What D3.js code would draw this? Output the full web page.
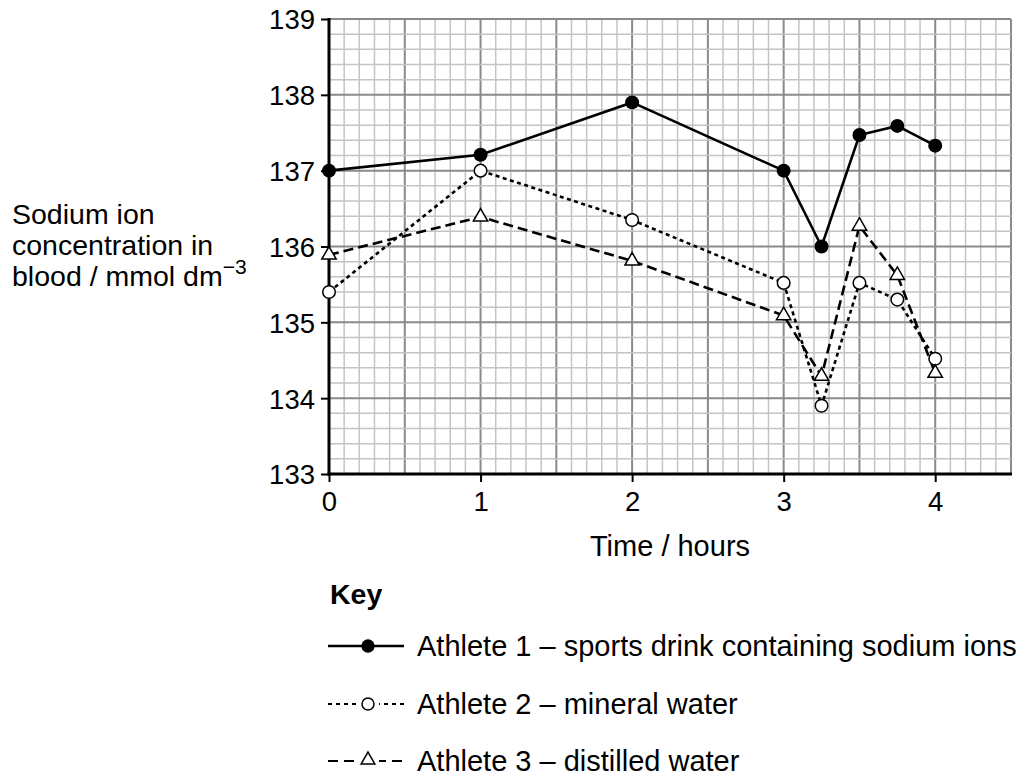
<!DOCTYPE html>
<html>
<head>
<meta charset="utf-8">
<script src="https://cdn.jsdelivr.net/npm/d3@7"></script>
<style>
  html, body { margin: 0; padding: 0; background: #fff; }
  svg { display: block; }
  text { font-family: "Liberation Sans", Arial, sans-serif; fill: #000; }
</style>
</head>
<body>
<svg id="chart" width="1025" height="776"></svg>
<script>
// ---- Data ----
const times = [0, 1, 2, 3, 3.25, 3.5, 3.75, 4];
const athlete1 = [137.0, 137.21, 137.9, 137.0, 136.0, 137.47, 137.59, 137.33];
const athlete2 = [135.4, 137.0, 136.35, 135.52, 133.9, 135.52, 135.3, 134.52];
const athlete3 = [135.89, 136.39, 135.81, 135.09, 134.29, 136.27, 135.62, 134.33];
const xTickValues = [0, 1, 2, 3, 4];
const yTickValues = [133, 134, 135, 136, 137, 138, 139];
const seriesNames = [
  "Athlete 1 \u2013 sports drink containing sodium ions",
  "Athlete 2 \u2013 mineral water",
  "Athlete 3 \u2013 distilled water"
];
const xTitle = "Time / hours";
const yTitleLines = ["Sodium ion", "concentration in", "blood / mmol dm"];
const keyTitle = "Key";

(function () {
// ---- Layout ----
const svg = d3.select("#chart");
const pLeft = 329, pRight = 1011, pTop = 19, pBottom = 474;
const x = d3.scaleLinear().domain([0, 4.5]).range([pLeft, pRight]);
const y = d3.scaleLinear().domain([133, 139]).range([pBottom, pTop]);

// ---- Grid ----
const grid = svg.append("g");
d3.range(0, 46).forEach(i => {
  const v = i / 10;
  const major = (i % 5 === 0);
  grid.append("line")
    .attr("x1", x(v)).attr("x2", x(v)).attr("y1", y(139)).attr("y2", y(133))
    .attr("stroke", major ? "#8a8a8a" : "#c4c4c4")
    .attr("stroke-width", major ? 2 : 1.5);
});
d3.range(0, 31).forEach(i => {
  const v = 133 + i * 0.2;
  const major = (i % 5 === 0);
  grid.append("line")
    .attr("x1", x(0)).attr("x2", x(4.5)).attr("y1", y(v)).attr("y2", y(v))
    .attr("stroke", major ? "#8a8a8a" : "#c4c4c4")
    .attr("stroke-width", major ? 2 : 1.5);
});

// ---- Axes ----
const xAxis = d3.axisBottom(x).tickValues(xTickValues).tickSize(8).tickPadding(9).tickFormat(d3.format("d"));
const yAxis = d3.axisLeft(y).tickValues(yTickValues).tickSize(8).tickPadding(6).tickFormat(d3.format("d"));

const gx = svg.append("g").attr("transform", `translate(0,${pBottom})`).call(xAxis);
const gy = svg.append("g").attr("transform", `translate(${pLeft},0)`).call(yAxis);
[gx, gy].forEach(g => {
  g.select(".domain").remove();
  g.selectAll(".tick line").attr("stroke", "#000").attr("stroke-width", 2);
  g.selectAll(".tick text").attr("font-size", 27.5).attr("font-family", "Liberation Sans, Arial, sans-serif").attr("fill", "#000");
});
gy.selectAll(".tick text").attr("dy", "0.36em");
svg.append("line").attr("x1", x(0)).attr("x2", x(0)).attr("y1", y(139) - 1).attr("y2", y(133) + 1.5)
  .attr("stroke", "#000").attr("stroke-width", 3);
svg.append("line").attr("x1", x(0) - 1.5).attr("x2", x(4.5) + 1).attr("y1", y(133)).attr("y2", y(133))
  .attr("stroke", "#000").attr("stroke-width", 3);

// ---- Titles ----
svg.append("text").attr("x", (pLeft + pRight) / 2).attr("y", 556)
  .attr("text-anchor", "middle").attr("font-size", 29).text(xTitle);
const yt = svg.append("text").attr("x", 12).attr("y", 224).attr("font-size", 28.5);
yTitleLines.forEach((l, i) => {
  yt.append("tspan").attr("x", 12).attr("y", 224 + i * 31).text(l);
});
yt.append("tspan").attr("dy", -12).attr("font-size", 21).text("\u22123");

// ---- Series ----
const styles = [
  { data: athlete1, dash: null, marker: "filled" },
  { data: athlete2, dash: "4,3.5", marker: "circle" },
  { data: athlete3, dash: "10,5", marker: "triangle" }
];
const line = d3.line().x(d => x(d[0])).y(d => y(d[1]));
styles.forEach(s => {
  svg.append("path")
    .attr("d", line(times.map((t, i) => [t, s.data[i]])))
    .attr("fill", "none").attr("stroke", "#000").attr("stroke-width", 2.6)
    .attr("stroke-dasharray", s.dash);
});
function drawMarker(g, kind, cx, cy, scale) {
  scale = scale || 1;
  if (kind === "filled") {
    g.append("circle").attr("cx", cx).attr("cy", cy).attr("r", 7 * scale).attr("fill", "#000");
  } else if (kind === "circle") {
    g.append("circle").attr("cx", cx).attr("cy", cy).attr("r", 6.3 * scale)
      .attr("fill", "#fff").attr("stroke", "#000").attr("stroke-width", 1.5);
  } else {
    g.append("path").attr("d", d3.symbol().type(d3.symbolTriangle).size(90 * scale * scale)())
      .attr("transform", `translate(${cx},${cy})`)
      .attr("fill", "#fff").attr("stroke", "#000").attr("stroke-width", 1.5);
  }
}
const mg = svg.append("g");
styles.forEach(s => {
  times.forEach((t, i) => drawMarker(mg, s.marker, x(t), y(s.data[i])));
});

// ---- Key ----
svg.append("text").attr("x", 330).attr("y", 604).attr("font-size", 28.5).attr("font-weight", "bold").text(keyTitle);
const keyY = [646, 704, 761];
const keyDash = [null, "4,4", "10,6"];
seriesNames.forEach((name, i) => {
  const g = svg.append("g");
  g.append("line").attr("x1", 328).attr("x2", 404).attr("y1", keyY[i]).attr("y2", keyY[i])
    .attr("stroke", "#000").attr("stroke-width", i === 0 ? 2.5 : 2)
    .attr("stroke-dasharray", keyDash[i]);
  if (i > 0) {
    g.append("rect").attr("x", 357).attr("y", keyY[i] - 9).attr("width", 22).attr("height", 18).attr("fill", "#fff");
  }
  drawMarker(g, styles[i].marker, 368, keyY[i] - (i === 2 ? 1 : 0), 0.95);
  g.append("text").attr("x", 417).attr("y", keyY[i]).attr("dy", "0.36em").attr("font-size", 29).text(name);
});
})();
</script>
</body>
</html>
